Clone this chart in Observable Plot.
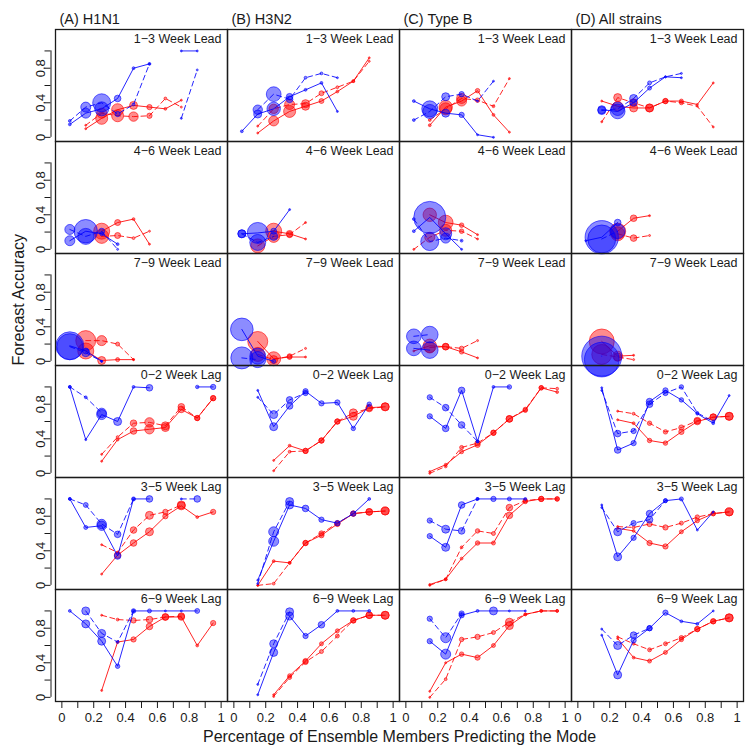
<!DOCTYPE html>
<html>
<head>
<meta charset="utf-8">
<script src="https://cdn.jsdelivr.net/npm/d3@7"></script>
<script src="https://cdn.jsdelivr.net/npm/@observablehq/plot@0.6"></script>
<style>
  html, body { margin: 0; padding: 0; background: #ffffff; }
</style>
</head>
<body>
<div id="chart"></div>
<script>
// ---- categories and ticks ----
const strainTitles = ["(A) H1N1", "(B) H3N2", "(C) Type B", "(D) All strains"];
const windowLabels = ["1−3 Week Lead", "4−6 Week Lead", "7−9 Week Lead", "0−2 Week Lag", "3−5 Week Lag", "6−9 Week Lag"];
const bins = [0.05, 0.15, 0.25, 0.35, 0.45, 0.55, 0.65, 0.75, 0.85, 0.95];
const xTicks = [0, 0.1, 0.2, 0.3, 0.4, 0.5, 0.6, 0.7, 0.8, 0.9, 1];
const xTickLabels = [0, 0.2, 0.4, 0.6, 0.8, 1];
const yTicks = [0, 0.2, 0.4, 0.6, 0.8, 1];
const yTickLabels = [0, 0.4, 0.8];

// ---- series: [window index, series key, accuracy per bin, number of forecasts per bin] ----
// keys: bs = blue solid, bd = blue dashed, rs = red solid, rd = red dashed
const h1n1 = [
  [0,"bs",[0.15,0.28,0.33,0.45,0.80,0.85,null,1.0,1.0],[2,25,49,11,2,2,0,1,1]],
  [0,"bd",[0.19,0.35,0.40,0.27,0.38,0.85,null,0.22,0.78],[2,25,81,7,2,1,0,1,1]],
  [0,"rs",[null,0.10,0.22,0.32,0.37,0.35,0.33,0.43],[0,1,36,36,16,7,2,1]],
  [0,"rd",[null,0.14,0.28,0.25,0.24,0.25,0.45,0.35],[0,1,25,36,22,7,2,1]],
  [1,"bs",[0.10,0.21,0.18,0.06],[25,137,4,2]],
  [1,"bd",[0.23,0.15,0.21,0.0],[25,64,9,1]],
  [1,"rs",[null,null,0.21,0.31,0.35,0.06],[0,0,64,9,2,1]],
  [1,"rd",[null,null,0.15,0.16,0.13,0.21],[0,0,49,9,2,1]],
  [2,"bs",[0.18,0.12,0.0],[196,9,1]],
  [2,"bd",[0.17,0.10,0.0],[169,16,1]],
  [2,"rs",[null,0.12,0.01,0.02,0.02],[0,64,16,4,1]],
  [2,"rd",[null,0.24,0.24,0.20,0.02],[0,100,25,4,1]],
  [3,"bs",[1.0,0.39,0.68,0.60,1.0,0.99,null,null,1.0,1.0],[2,1,25,16,2,11,0,0,3,7]],
  [3,"bd",[1.0,0.88,0.70],[2,2,22]],
  [3,"rs",[null,null,0.14,0.39,0.49,0.51,0.53,0.74,0.64,0.87],[0,0,1,2,11,22,16,11,7,7]],
  [3,"rd",[null,null,0.22,0.42,0.58,0.59,0.55,0.77,0.64,0.87],[0,0,1,2,11,22,16,11,7,7]],
  [4,"bs",[1.0,0.67,0.69,0.34,1.0,1.0],[2,4,22,11,4,11]],
  [4,"bd",[1.0,0.93,0.71,0.59,1.0,null,null,1.0,1.0],[2,6,22,11,2,0,0,1,11]],
  [4,"rs",[null,null,0.13,0.35,0.49,0.62,0.80,0.92,0.79,0.85],[0,0,1,11,11,16,7,16,2,7]],
  [4,"rd",[null,null,0.47,0.38,0.64,0.81,0.85,0.93],[0,0,1,2,11,16,7,16]],
  [5,"bs",[1.0,0.85,0.65,0.36,1.0,1.0,1.0,1.0,1.0],[2,16,16,5,5,4,1,1,6]],
  [5,"bd",[null,1.0,0.74,0.64,1.0],[0,16,16,2,2]],
  [5,"rs",[null,null,0.08,0.64,0.67,0.82,0.93,0.93,0.60,0.86],[0,0,1,2,7,11,11,11,2,7]],
  [5,"rd",[null,null,0.95,0.90,0.89,0.90,0.93,0.94],[0,0,1,2,7,11,11,11]]
];

const h3n2 = [
  [0,"bs",[0.07,0.27,0.33,0.47,0.55,0.63,0.30],[2,16,45,11,2,2,1]],
  [0,"bd",[null,0.32,0.50,0.44,0.69,0.74,0.69],[0,22,54,11,2,2,1]],
  [0,"rs",[null,0.05,0.19,0.30,0.36,0.42,0.53,0.65,0.92],[0,1,25,36,16,6,2,2,1]],
  [0,"rd",[null,0.13,0.33,0.38,0.39,0.51,0.58,0.65,0.88],[0,1,22,25,16,6,2,2,1]],
  [1,"bs",[0.18,0.19,0.21,0.46],[16,110,9,1]],
  [1,"bd",[0.18,0.08,0.15],[16,64,16]],
  [1,"rs",[null,null,0.21,0.18,0.12],[0,0,64,11,1]],
  [1,"rd",[null,0.04,0.15,0.17,0.31],[0,49,36,9,1]],
  [2,"bs",[0.37,0.06,0.0],[128,64,4]],
  [2,"bd",[0.04,0.02],[121,64]],
  [2,"rs",[null,0.23,0.03,0.05,0.05],[0,100,49,6,1]],
  [2,"rd",[null,0.08,0.02,0.06,0.15],[0,49,16,6,1]],
  [3,"bs",[null,0.96,0.54,0.78,0.95,0.81,0.82,0.52,0.80],[0,1,16,11,7,7,7,5,5]],
  [3,"bd",[null,0.88,0.68,0.85,0.93],[0,1,16,11,7]],
  [3,"rs",[null,null,0.15,0.32,0.26,0.38,0.60,0.66,0.76,0.77],[0,0,1,2,7,7,7,16,11,16]],
  [3,"rd",[null,null,0.03,0.25,0.26,0.38,0.60,0.70,0.75,0.77],[0,0,1,2,7,7,7,16,11,16]],
  [4,"bs",[null,0.06,0.51,0.93,0.89,0.76,0.72,0.83,1.0],[0,1,25,16,11,7,7,7,2]],
  [4,"bd",[null,0.02,0.62,0.97],[0,1,25,16]],
  [4,"rs",[null,0.0,0.28,0.26,0.49,0.58,0.71,0.83,0.85,0.86],[0,1,2,2,7,7,7,7,11,16]],
  [4,"rd",[null,0.0,0.02,0.26,0.49,0.60,0.72,0.83,0.85,0.86],[0,1,2,2,7,7,7,7,11,16]],
  [5,"bs",[null,0.03,0.52,0.94,0.71,0.84,1.0,1.0,1.0],[0,1,16,16,7,11,2,2,2]],
  [5,"bd",[null,0.15,0.62,0.99],[0,1,16,16]],
  [5,"rs",[null,null,0.03,0.25,0.42,0.62,0.77,0.89,0.95,0.95],[0,0,1,4,7,4,4,7,11,16]],
  [5,"rd",[null,null,0.01,0.23,0.41,0.53,0.71,0.89,0.95,0.95],[0,0,1,4,7,4,4,7,11,16]]
];

const typeB = [
  [0,"bs",[0.42,0.33,0.28,0.26,0.03,0.0],[2,64,16,7,1,1]],
  [0,"bd",[0.20,0.30,0.47,0.50,0.42,0.65],[2,49,16,7,1,1]],
  [0,"rs",[null,0.14,0.35,0.42,0.54,0.26,0.06],[0,2,45,25,5,2,1]],
  [0,"rd",[null,0.20,0.33,0.45,0.43,0.36,0.68],[0,2,36,25,5,2,1]],
  [1,"bs",[0.21,0.37,0.18,0.0],[2,256,36,1]],
  [1,"bd",[0.35,0.09,0.13,0.10],[2,81,25,2]],
  [1,"rs",[null,0.40,0.31,0.28,0.17],[0,45,54,5,1]],
  [1,"rd",[0.0,0.14,0.22,0.21,0.12],[1,25,36,5,1]],
  [2,"bs",[0.15,0.13],[54,69]],
  [2,"bd",[0.29,0.31],[54,69]],
  [2,"rs",[0.12,0.18,0.17,0.11,0.04],[1,45,11,5,1]],
  [2,"rd",[null,0.16,0.17,0.15,0.24],[0,30,11,5,1]],
  [3,"bs",[null,0.66,0.52,0.96,0.37,1.0,1.0],[0,7,11,11,2,2,5]],
  [3,"bd",[null,0.88,0.76,0.56,0.37],[0,7,11,11,2]],
  [3,"rs",[null,0.02,0.10,0.25,0.33,0.47,0.63,0.73,0.99,0.94],[0,1,2,4,7,7,11,5,5,2]],
  [3,"rd",[null,0.0,0.08,0.30,0.35,0.47,0.63,0.74,0.99,0.98],[0,1,2,4,7,7,11,5,5,2]],
  [4,"bs",[null,0.57,0.44,0.93,1.0,1.0,1.0,1.0],[0,7,16,11,2,7,4,2]],
  [4,"bd",[null,0.75,0.65,0.63,1.0],[0,7,16,11,2]],
  [4,"rs",[null,0.01,0.07,0.31,0.49,0.49,0.81,0.97,1.0,1.0],[0,1,2,2,5,4,11,5,7,5]],
  [4,"rd",[null,0.0,0.07,0.44,0.63,0.60,0.90,0.98,1.0,1.0],[0,1,2,2,5,4,11,5,7,5]],
  [5,"bs",[null,0.65,0.50,0.95,1.0,1.0,1.0,1.0],[0,7,25,7,2,16,1,1]],
  [5,"bd",[null,0.91,0.69,0.97],[0,7,25,7]],
  [5,"rs",[null,0.07,0.40,0.50,0.46,0.60,0.83,0.96,1.0,1.0],[0,1,1,5,7,4,16,2,2,2]],
  [5,"rd",[null,0.0,0.21,0.67,0.70,0.75,0.87,0.96,1.0,1.0],[0,1,2,5,7,4,16,2,2,2]]
];

const allStrains = [
  [0,"bs",[null,0.32,0.30,0.40,0.57,0.70,0.69],[0,16,54,11,4,1,1]],
  [0,"bd",[null,0.31,0.33,0.45,0.63,0.70,0.74],[0,16,45,16,4,1,1]],
  [0,"rs",[null,0.42,0.36,0.34,0.34,0.42,0.42,0.38,0.63],[0,1,25,16,16,7,4,1,1]],
  [0,"rd",[null,0.18,0.46,0.40,0.34,0.42,0.40,0.36,0.12],[0,1,16,16,16,7,4,1,1]],
  [1,"bs",[0.10,0.14,0.31],[1,278,11]],
  [1,"bd",[null,0.12,0.21],[0,196,54]],
  [1,"rs",[null,null,0.21,0.36,0.39],[0,0,64,11,1]],
  [1,"rd",[null,null,0.18,0.13,0.16],[0,0,49,11,1]],
  [2,"bs",[null,0.06],[0,400]],
  [2,"bd",[null,0.02],[0,300]],
  [2,"rs",[null,0.23,0.06,0.07],[0,156,25,1]],
  [2,"rd",[null,0.08,0.05,0.02],[0,100,16,1]],
  [3,"bs",[null,0.99,0.27,0.35,0.83,0.96,0.85,0.69,0.58,0.90],[0,1,11,7,11,7,5,2,2,1]],
  [3,"bd",[null,0.96,0.46,0.49,0.80,0.93,1.0,0.70,0.60],[0,1,11,7,11,7,5,2,2]],
  [3,"rs",[null,null,0.62,0.58,0.38,0.35,0.48,0.60,0.65,0.66],[0,0,1,2,5,5,7,11,11,16]],
  [3,"rd",[null,null,0.72,0.69,0.58,0.48,0.53,0.61,0.65,0.66],[0,0,1,2,5,5,7,11,11,16]],
  [4,"bs",[null,0.93,0.33,0.55,0.83,0.98,1.0,0.64,0.85],[0,1,16,7,11,4,4,1,1]],
  [4,"bd",[null,0.90,0.62,0.72,0.76,0.98],[0,1,16,7,11,4]],
  [4,"rs",[null,null,0.66,0.63,0.49,0.45,0.62,0.75,0.83,0.85],[0,0,1,2,7,7,4,5,5,16]],
  [4,"rd",[null,null,0.68,0.67,0.71,0.67,0.72,0.79,0.83,0.85],[0,0,1,2,7,7,4,5,5,16]],
  [5,"bs",[null,0.72,0.26,0.66,0.80,0.98,0.88,0.85,1.0],[0,1,16,7,7,7,2,2,1]],
  [5,"bd",[null,0.79,0.60,0.72,0.80],[0,1,16,11,7]],
  [5,"rs",[null,null,0.68,0.46,0.42,0.52,0.67,0.79,0.88,0.92],[0,0,1,2,4,4,5,7,7,16]],
  [5,"rd",[null,null,0.70,0.62,0.55,0.62,0.69,0.79,0.88,0.92],[0,0,1,2,4,4,5,7,7,16]]
];

// ---- build a tidy table for Plot ----
const table = [];
[h1n1, h3n2, typeB, allStrains].forEach((rows, c) => {
  rows.forEach(([w, key, ys, ns]) => {
    bins.forEach((x, i) => {
      const y = ys[i] ?? null;
      table.push({strain: strainTitles[c], window: windowLabels[w], key, x, y, n: y == null ? 0 : (ns[i] ?? 0)});
    });
  });
});

const BLUE = "#0000ff";
const RED = "#ff0000";
const xDomain = [-0.04, 1.04];
const yDomain = [-0.048, 1.248];
const font = "'Liberation Sans', Arial, Helvetica, sans-serif";

const lineMark = (key) => Plot.line(table.filter(d => d.key === key), {
  x: "x", y: "y", fx: "strain", fy: "window",
  stroke: key[0] === "b" ? BLUE : RED,
  strokeWidth: 1,
  strokeOpacity: 0.85,
  strokeDasharray: key[1] === "d" ? "5,3.5" : null
});

const dotMark = (color) => Plot.dot(table.filter(d => d.key[0] === color && d.y != null && d.n > 0), {
  x: "x", y: "y", r: "n", fx: "strain", fy: "window",
  fill: color === "b" ? BLUE : RED,
  fillOpacity: 0.45,
  stroke: color === "b" ? BLUE : RED,
  strokeOpacity: 0.75,
  strokeWidth: 0.8
});

const panels = d3.cross(strainTitles, windowLabels).map(([s, w]) => ({s, w}));

const chart = Plot.plot({
  width: 754,
  height: 754,
  marginLeft: 54,
  marginRight: 10,
  marginTop: 27,
  marginBottom: 52,
  style: {fontFamily: font, fontSize: "13px", background: "#ffffff", color: "#1a1a1a"},
  x: {domain: xDomain},
  y: {domain: yDomain},
  r: {type: "sqrt", domain: [0, 400], range: [0, 20]},
  fx: {domain: strainTitles, padding: 0, axis: null},
  fy: {domain: windowLabels, padding: 0, axis: null},
  marks: [
    lineMark("rs"), lineMark("rd"),
    dotMark("r"),
    lineMark("bs"), lineMark("bd"),
    dotMark("b"),
    Plot.frame({stroke: "#1a1a1a", strokeWidth: 1.3}),
    // y axis (left column only)
    Plot.ruleX([xDomain[0]], {x: d => d, y1: 0, y2: 1, dx: -4.5, stroke: "#1a1a1a", facetAnchor: "left"}),
    Plot.axisY({ticks: yTicks, tickSize: 6, dx: -4.5, tickFormat: () => "", label: null, facetAnchor: "left", stroke: "#1a1a1a"}),
    Plot.axisY({ticks: yTickLabels, tickSize: 0, tickPadding: 11, tickRotate: -90, tickFormat: d => String(d), label: null, facetAnchor: "left", fontSize: 13, fill: "#1a1a1a"}),
    // x axis (bottom row only)
    Plot.axisX({ticks: xTicks, tickSize: 7, tickFormat: () => "", label: null, facetAnchor: "bottom", stroke: "#1a1a1a"}),
    Plot.axisX({ticks: xTickLabels, tickSize: 0, tickPadding: 11, tickFormat: d => String(d), label: null, facetAnchor: "bottom", fontSize: 13, fill: "#1a1a1a"}),
    // column titles
    Plot.text(strainTitles, {fx: d => d, fy: () => windowLabels[0], text: d => d, frameAnchor: "top-left", textAnchor: "start", lineAnchor: "middle", dx: 4, dy: -10, fontSize: 14.5, fill: "#1a1a1a"}),
    // panel labels
    Plot.text(panels, {fx: "s", fy: "w", text: "w", frameAnchor: "top-right", textAnchor: "end", lineAnchor: "middle", dx: -6, dy: 9.5, fontSize: 12.5, fill: "#1a1a1a"}),
    // axis titles
    Plot.text(["Percentage of Ensemble Members Predicting the Mode"], {facet: "super", text: d => d, frameAnchor: "bottom", lineAnchor: "middle", dy: 35, fontSize: 16, fill: "#1a1a1a"}),
    Plot.text(["Forecast Accuracy"], {facet: "super", text: d => d, frameAnchor: "left", rotate: -90, lineAnchor: "middle", dx: -37, fontSize: 16, fill: "#1a1a1a"})
  ]
});

document.getElementById("chart").appendChild(chart);
</script>
</body>
</html>
